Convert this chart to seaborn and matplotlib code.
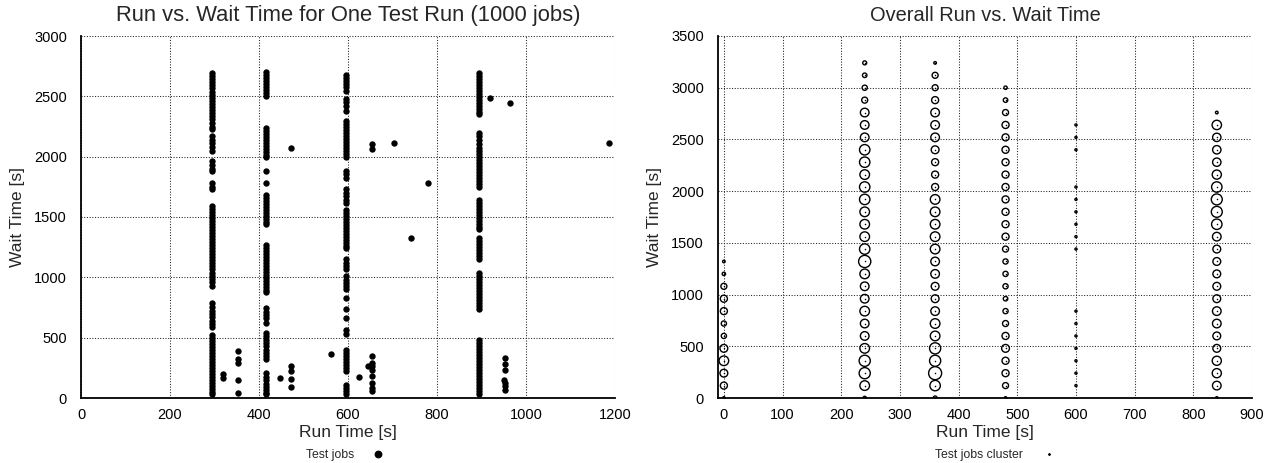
import numpy as np
import pandas as pd
import matplotlib
matplotlib.use("Agg")
import matplotlib.pyplot as plt
from matplotlib.lines import Line2D
import seaborn as sns

# ---------------- one test run: one point per job ----------------
run_a = 295
wait_a = [2690, 2665, 2640, 2615, 2590, 2565, 2540, 2515, 2490, 2465, 2440, 2415,
          2390, 2365, 2340, 2315, 2280, 2250, 2230, 2170, 2140, 2110, 2080, 2050,
          1960, 1930, 1900, 1880, 1780, 1750, 1730,
          1590, 1565, 1540, 1515, 1490, 1465, 1440, 1415, 1390, 1365, 1340, 1315,
          1290, 1265, 1240, 1215, 1190, 1165, 1140, 1115, 1090, 1065, 1040, 1015,
          990, 960, 930, 785, 755, 725, 700, 670, 640, 610, 585,
          525, 500, 475, 450, 425, 400, 375, 350, 325, 300, 275, 250, 225, 200,
          175, 150, 125, 100, 75, 50, 30]

run_b = 415
wait_b = [2705, 2680, 2655, 2630, 2605, 2580, 2555, 2530, 2500,
          2240, 2215, 2190, 2165, 2140, 2115, 2090, 2065, 2040, 2010, 1995,
          1881, 1779,
          1685, 1660, 1635, 1610, 1585, 1560, 1535, 1510, 1485, 1460, 1440,
          1270, 1245, 1220, 1195, 1170, 1145, 1120, 1095, 1070, 1045, 1020, 995,
          970, 945, 920, 895, 875, 745, 715, 690, 660, 625,
          535, 510, 480, 455, 430, 400, 375, 345, 320,
          205, 175, 150, 120, 95, 70, 45, 30]

run_c = 595
wait_c = [2680, 2655, 2630, 2600, 2575, 2545, 2475, 2450, 2420, 2380,
          2295, 2270, 2245, 2220, 2195, 2170, 2145, 2120, 2095, 2070, 2045, 2020, 1995,
          1880, 1855, 1825, 1730, 1700, 1675, 1645, 1620,
          1560, 1535, 1510, 1485, 1460, 1435, 1410, 1385, 1360, 1335, 1310, 1285,
          1260, 1245, 1150, 1120, 1095, 1065, 1010, 980, 955, 925, 900,
          830, 740, 665, 565, 530,
          400, 375, 350, 325, 300, 275, 250, 225, 110, 80, 55, 30]

run_d = 895
wait_d = [2695, 2670, 2645, 2620, 2595, 2570, 2545, 2520, 2495, 2470, 2445, 2420,
          2395, 2370, 2350, 2200, 2170, 2140, 2105,
          2075, 2050, 2025, 2000, 1975, 1950, 1925, 1900, 1875, 1850, 1825, 1800,
          1775, 1745, 1645, 1620, 1595, 1570, 1545, 1520, 1495, 1470, 1445, 1420,
          1400, 1325, 1300, 1275, 1250, 1225, 1200, 1175, 1150,
          1035, 1010, 985, 960, 935, 910, 885, 860, 835, 810, 785, 760, 735,
          480, 455, 430, 405, 380, 355, 330, 305, 280, 255, 230, 205, 180, 155,
          130, 105, 80, 55, 30]

other_run = [320, 320, 352, 352, 352, 352, 352, 447, 473, 473, 473, 473, 473,
             561, 624, 646, 653, 653, 653, 653, 653, 653, 653, 653, 653, 653,
             704, 741, 780, 919, 964, 1187, 953, 953, 953, 950, 953, 953, 953]
other_wait = [195, 165, 390, 320, 290, 150, 40, 163, 2075, 265, 220, 160, 95,
              365, 172, 268, 2102, 2061, 346, 290, 263, 235, 180, 124, 83, 55,
              2116, 1328, 1784, 2484, 2443, 2116, 332, 282, 235, 152, 124, 97, 69]

# ---------------- overall: clustered jobs ----------------
cl_0_wait = [0, 120, 240, 360, 480, 600, 720, 840, 960, 1080, 1200, 1320]
cl_0_jobs = [3, 22, 27, 41, 27, 12, 12, 22, 22, 16, 5, 3]

cl_240_wait = [0, 120, 240, 360, 480, 600, 720, 840, 960, 1080, 1200, 1320, 1440, 1560,
               1680, 1800, 1920, 2040, 2160, 2280, 2400, 2520, 2640, 2760, 2880, 3000,
               3120, 3240]
cl_240_jobs = [5, 41, 55, 55, 41, 33, 33, 41, 33, 33, 41, 66, 48, 41,
               41, 41, 48, 48, 41, 48, 48, 33, 33, 33, 16, 12, 9, 7]

cl_360_wait = [0, 120, 240, 360, 480, 600, 720, 840, 960, 1080, 1200, 1320, 1440, 1560,
               1680, 1800, 1920, 2040, 2160, 2280, 2400, 2520, 2640, 2760, 2880, 3000,
               3120, 3240]
cl_360_jobs = [7, 48, 75, 55, 55, 41, 41, 33, 27, 27, 33, 33, 41, 41,
               41, 41, 41, 22, 22, 22, 27, 33, 33, 33, 22, 16, 16, 3]

cl_480_wait = [0, 120, 240, 360, 480, 600, 720, 840, 960, 1080, 1200, 1320, 1440, 1560,
               1680, 1800, 1920, 2040, 2160, 2280, 2400, 2520, 2640, 2760, 2880, 3000]
cl_480_jobs = [3, 16, 22, 22, 27, 22, 16, 12, 9, 12, 12, 12, 16, 22,
               22, 22, 22, 22, 22, 22, 22, 22, 22, 16, 9, 5]

cl_600_wait = [120, 240, 360, 480, 600, 720, 840, 1440, 1560, 1680, 1800, 1920, 2040,
               2400, 2520, 2640]
cl_600_jobs = [2, 2, 2, 2, 2, 2, 2, 2, 2, 2, 2, 2, 2, 2, 2, 2]

cl_840_wait = [0, 120, 240, 360, 480, 600, 720, 840, 960, 1080, 1200, 1320, 1440, 1560,
               1680, 1800, 1920, 2040, 2160, 2280, 2400, 2520, 2640, 2760]
cl_840_jobs = [3, 33, 37, 37, 27, 27, 33, 33, 27, 27, 27, 27, 27, 33,
               48, 53, 53, 48, 37, 31, 31, 31, 39, 3]

left_xticks = [0, 200, 400, 600, 800, 1000, 1200]
left_yticks = [0, 500, 1000, 1500, 2000, 2500, 3000]
right_xticks = [0, 100, 200, 300, 400, 500, 600, 700, 800, 900]
right_yticks = [0, 500, 1000, 1500, 2000, 2500, 3000, 3500]

# ---------------- tables ----------------
jobs = pd.concat([
    pd.DataFrame({"run": run_a, "wait": wait_a}),
    pd.DataFrame({"run": run_b, "wait": wait_b}),
    pd.DataFrame({"run": run_c, "wait": wait_c}),
    pd.DataFrame({"run": run_d, "wait": wait_d}),
    pd.DataFrame({"run": other_run, "wait": other_wait}),
], ignore_index=True)

clusters = pd.concat([
    pd.DataFrame({"run": 0, "wait": cl_0_wait, "jobs": cl_0_jobs}),
    pd.DataFrame({"run": 240, "wait": cl_240_wait, "jobs": cl_240_jobs}),
    pd.DataFrame({"run": 360, "wait": cl_360_wait, "jobs": cl_360_jobs}),
    pd.DataFrame({"run": 480, "wait": cl_480_wait, "jobs": cl_480_jobs}),
    pd.DataFrame({"run": 600, "wait": cl_600_wait, "jobs": cl_600_jobs}),
    pd.DataFrame({"run": 840, "wait": cl_840_wait, "jobs": cl_840_jobs}),
], ignore_index=True)

# ---------------- style ----------------
sns.set_style("white")
plt.rcParams["font.family"] = ["Liberation Sans", "DejaVu Sans"]
plt.rcParams["axes.edgecolor"] = "black"

W, H = 1272, 463
fig = plt.figure(figsize=(W / 100, H / 100), dpi=100)
ax1 = fig.add_axes([81 / W, 65 / H, 534 / W, 362 / H])
ax2 = fig.add_axes([718 / W, 65 / H, 534 / W, 362 / H])

sns.scatterplot(data=jobs, x="run", y="wait", ax=ax1, color="black",
                s=21, linewidth=0, legend=False, zorder=3)

# ring area grows linearly with the number of jobs in a cluster
max_jobs = clusters["jobs"].max()
sns.scatterplot(data=clusters, x="run", y="wait", size="jobs", ax=ax2,
                sizes=(0, 1.17 * max_jobs), size_norm=(0, max_jobs),
                color="black", linewidth=1.0, legend=False, zorder=3)
rings = ax2.collections[-1]
rings.set_facecolor("none")
rings.set_edgecolor("black")
sns.scatterplot(data=clusters, x="run", y="wait", ax=ax2, color="black",
                s=1.2, linewidth=0, legend=False, zorder=4)


def style_axes(ax, title, title_size, xticks, yticks, xlim, ylim):
    ax.set_xlim(*xlim)
    ax.set_ylim(*ylim)
    ax.set_xticks(xticks)
    ax.set_yticks(yticks)
    ax.grid(True, color="#222222", linestyle=(0, (1, 1.6)), linewidth=0.75)
    ax.set_axisbelow(True)
    for side in ("top", "right"):
        ax.spines[side].set_visible(False)
    for side in ("left", "bottom"):
        ax.spines[side].set_linewidth(1.3)
        ax.spines[side].set_color("black")
    ax.tick_params(direction="out", length=4, width=1, color="black",
                   labelsize=10.5, labelcolor="black")
    ax.tick_params(axis="x", pad=3)
    ax.tick_params(axis="y", pad=6)
    ax.set_title(title, fontsize=title_size, pad=11)
    ax.set_xlabel("Run Time [s]", fontsize=12.5)
    ax.set_ylabel("Wait Time [s]", fontsize=12.5)
    ax.xaxis.set_label_coords(0.5, -0.075)
    ax.yaxis.set_label_coords(-0.104, 0.5)


style_axes(ax1, "Run vs. Wait Time for One Test Run (1000 jobs)", 15.8,
           left_xticks, left_yticks, (0, 1200), (0, 3000))
style_axes(ax2, "Overall Run vs. Wait Time", 14.4,
           right_xticks, right_yticks, (-10, 900), (0, 3500))

fig.legend(handles=[Line2D([], [], marker="o", linestyle="none", color="black",
                           markersize=4.6)],
           labels=["Test jobs"], loc="center", bbox_to_anchor=(347 / W, 8 / H),
           frameon=False, markerfirst=False, fontsize=8.8,
           handlelength=1.6, handletextpad=1.1)
fig.legend(handles=[Line2D([], [], marker="o", linestyle="none", color="black",
                           markersize=1.0)],
           labels=["Test jobs cluster"], loc="center", bbox_to_anchor=(997 / W, 8 / H),
           frameon=False, markerfirst=False, fontsize=8.8,
           handlelength=1.6, handletextpad=1.4)

fig.savefig("out.png", dpi=100)
